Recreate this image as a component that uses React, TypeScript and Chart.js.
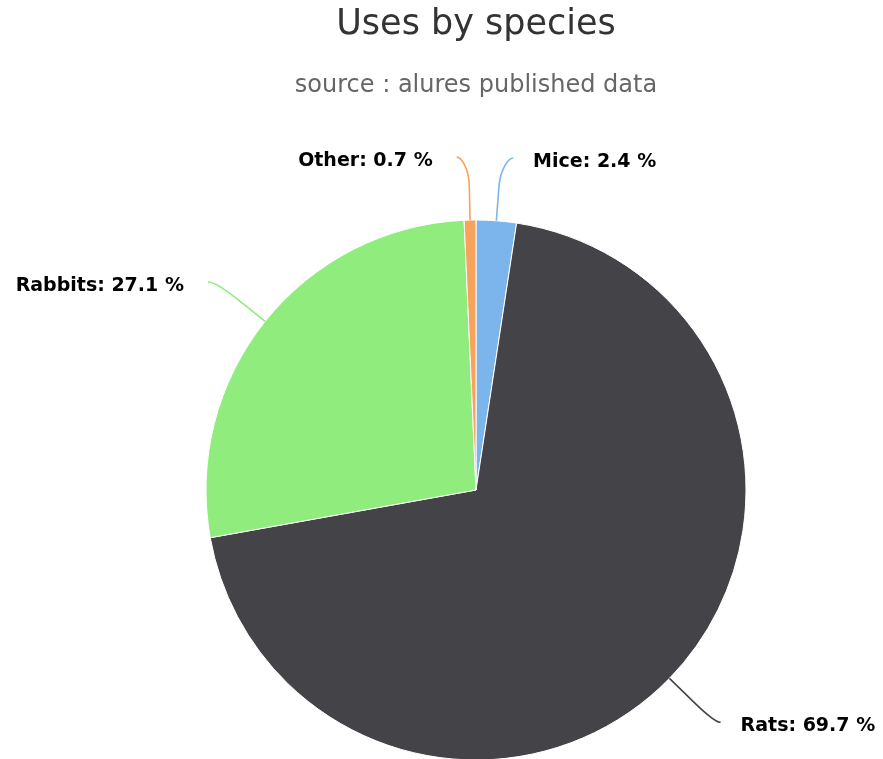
import React, { useEffect, useRef } from "react";
import { Chart, registerables } from "chart.js";

Chart.register(...registerables);

// Species and their share of uses (percent)
const species = ["Mice", "Rats", "Rabbits", "Other"];
const shares = [2.4, 69.7, 27.1, 0.7];
const sliceColors = ["#7cb5ec", "#434348", "#90ed7d", "#f7a35c"];

const titleText = "Uses by species";
const subtitleText = "source : alures published data";

// horizontal nudge of label anchors (keeps the small top slices apart)
const labelNudge = [12, 6, -8, -12];

const FONT = '"DejaVu Sans", "Lucida Grande", sans-serif';

const headerPlugin = {
  id: "header",
  afterDraw(chart: any) {
    const ctx = chart.ctx;
    const cx = 476;
    ctx.save();
    ctx.textAlign = "center";
    ctx.textBaseline = "middle";
    ctx.fillStyle = "#333333";
    ctx.font = `35px ${FONT}`;
    ctx.fillText(titleText, cx, 25);
    ctx.fillStyle = "#666666";
    ctx.font = `24px ${FONT}`;
    ctx.fillText(subtitleText, cx, 86);
    ctx.restore();
  },
};

const pieLabelPlugin = {
  id: "pieLabels",
  afterDatasetsDraw(chart: any) {
    const ctx = chart.ctx;
    const meta = chart.getDatasetMeta(0);
    ctx.save();
    ctx.font = `bold 19px ${FONT}`;
    ctx.textBaseline = "middle";
    meta.data.forEach((arc: any, i: number) => {
      const { x, y, startAngle, endAngle, outerRadius } = arc.getProps(
        ["x", "y", "startAngle", "endAngle", "outerRadius"],
        true
      );
      const mid = (startAngle + endAngle) / 2;
      const cos = Math.cos(mid);
      const sin = Math.sin(mid);
      const touch = { x: x + cos * outerRadius, y: y + sin * outerRadius };
      const brk = { x: x + cos * (outerRadius + 34), y: y + sin * (outerRadius + 34) };
      const end = {
        x: x + cos * (outerRadius + 63) + labelNudge[i],
        y: y + sin * (outerRadius + 63),
      };
      const right = end.x >= x;
      ctx.strokeStyle = sliceColors[i];
      ctx.lineWidth = 1.6;
      ctx.beginPath();
      ctx.moveTo(end.x, end.y);
      ctx.bezierCurveTo(
        end.x + (right ? -5 : 5),
        end.y,
        brk.x + (brk.x - touch.x) * 0.5,
        brk.y + (brk.y - touch.y) * 0.5,
        brk.x,
        brk.y
      );
      ctx.lineTo(touch.x, touch.y);
      ctx.stroke();

      const text = `${species[i]}: ${shares[i]} %`;
      ctx.fillStyle = "#000000";
      ctx.textAlign = right ? "left" : "right";
      ctx.fillText(text, end.x + (right ? 20 : -24), end.y + 4);
    });
    ctx.restore();
  },
};

export default function App() {
  const canvasRef = useRef<HTMLCanvasElement | null>(null);

  useEffect(() => {
    const canvas = canvasRef.current;
    if (!canvas) return;
    const chart = new Chart(canvas, {
      type: "pie",
      data: {
        labels: species,
        datasets: [
          {
            data: shares,
            backgroundColor: sliceColors,
            borderColor: "#ffffff",
            borderWidth: 1,
            radius: 270,
          },
        ],
      },
      options: {
        responsive: false,
        animation: false,
        layout: { padding: { left: 150, right: 81, top: 221, bottom: 0 } },
        plugins: {
          legend: { display: false },
          title: { display: false },
          tooltip: { enabled: false },
        },
      },
      plugins: [headerPlugin, pieLabelPlugin],
    });
    return () => chart.destroy();
  }, []);

  return (
    <div style={{ position: "absolute", left: 0, top: 0, width: 883, height: 759, background: "#fff" }}>
      <canvas ref={canvasRef} width={883} height={759} />
    </div>
  );
}
